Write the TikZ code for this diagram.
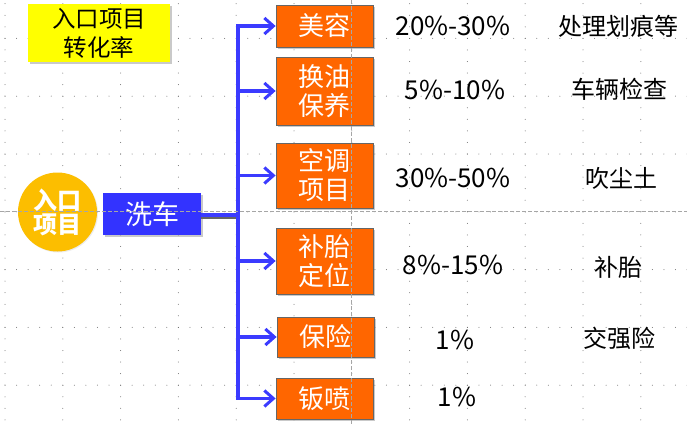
\documentclass[tikz,border=0pt]{standalone}
\usepackage{fontspec}
\setmainfont{Noto Sans CJK SC}
\usetikzlibrary{arrows.meta,shadows}
\definecolor{orangebox}{RGB}{255,102,0}
\definecolor{washblue}{RGB}{51,51,255}
\definecolor{connblue}{RGB}{59,59,255}
\definecolor{goldc}{RGB}{252,190,0}
\definecolor{yellowbox}{RGB}{255,255,0}
\definecolor{gridc}{RGB}{110,110,110}
\begin{document}
\begin{tikzpicture}[x=1pt,y=-1pt,
  boxshadow/.style={drop shadow={shadow xshift=2pt,shadow yshift=-2pt,opacity=0.35,fill=black!60}},
  itembox/.style={draw=gray!80!black,line width=0.8pt,fill=orangebox,text=white,minimum width=97pt,inner sep=0pt,align=center,font=\fontsize{26}{29}\selectfont,boxshadow},
  pct/.style={font=\fontsize{26}{30}\selectfont,text=black},
  note/.style={font=\fontsize{24}{27}\selectfont,text=black},
  conn/.style={draw=connblue,line width=3.5pt,-{Straight Barb[length=9pt,width=16pt,line width=3pt]}},
  guide/.style={draw=gray!70,line width=0.8pt,dash pattern=on 4pt off 2pt}]
\useasboundingbox (0,0) rectangle (687,425);
\fill[white] (0,0) rectangle (687,425);
% grid dots
\foreach \k in {0,...,11}{
  \foreach \j in {-3,...,33}{
    \fill[gridc] (5+57.8*\k,38.4+11.56*\j) circle (0.5);
  }
}
\foreach \j in {0,...,6}{
  \foreach \i in {0,...,59}{
    \fill[gridc] (5+11.56*\i,38.4+57.8*\j) circle (0.5);
  }
}
% title box
\node[fill=yellowbox,minimum width=142pt,minimum height=58pt,inner sep=0pt,align=center,
  font=\fontsize{23.5}{29}\selectfont,boxshadow] (title) at (99,33) {入口项目\\转化率};
% entry circle
\node[circle,fill=goldc,minimum size=79pt,inner sep=0pt,text=white,align=center,
  font=\fontsize{24}{24}\selectfont\bfseries,
  drop shadow={shadow xshift=1pt,shadow yshift=-1pt,opacity=0.15}] (entry) at (57.5,212) {入口\\项目};
% wash box
\node[fill=washblue,minimum width=98pt,minimum height=42pt,inner sep=0pt,text=white,
  font=\fontsize{27}{30}\selectfont,boxshadow] (wash) at (152,214) {洗车};
% item boxes
\node[itembox,minimum height=42pt] (b1) at (324.5,26) {美容};
\node[itembox,minimum height=68pt] (b2) at (324.5,91) {换油\\保养};
\node[itembox,minimum height=65pt] (b3) at (324.5,175.5) {空调\\项目};
\node[itembox,minimum height=66pt] (b4) at (324.5,261) {补胎\\定位};
\node[itembox,minimum height=40pt] (b5) at (325.5,337) {保险};
\node[itembox,minimum height=41pt] (b6) at (324.5,398.5) {钣喷};
% connectors
\coordinate (hub) at (238,215);
\draw[black!60,line width=3.5pt] ([yshift=-2.5pt]wash.east |- hub) -- ([yshift=-2.5pt]hub);
\draw[connblue,line width=3.5pt] (wash.east |- hub) -- (hub);
\foreach \b in {b1,b2,b3,b4,b5,b6}{
  \draw[conn] (hub) |- (\b.west);
}
% percentages
\node[pct] (p1) at (453,26) {20\%-30\%};
\node[pct] (p2) at (455,90) {5\%-10\%};
\node[pct] (p3) at (453,178) {30\%-50\%};
\node[pct] (p4) at (453,265) {8\%-15\%};
\node[pct] (p5) at (455,340) {1\%};
\node[pct] (p6) at (457,397) {1\%};
% notes
\node[note] (n1) at (618,26) {处理划痕等};
\node[note] (n2) at (619,89) {车辆检查};
\node[note] (n3) at (621,178) {吹尘土};
\node[note] (n4) at (618,267) {补胎};
\node[note] (n5) at (619,338) {交强险};
% guides
\draw[guide] (0,211.8) -- (687,211.8);
\draw[guide] (351.8,0) -- (351.8,425);
\end{tikzpicture}
\end{document}
